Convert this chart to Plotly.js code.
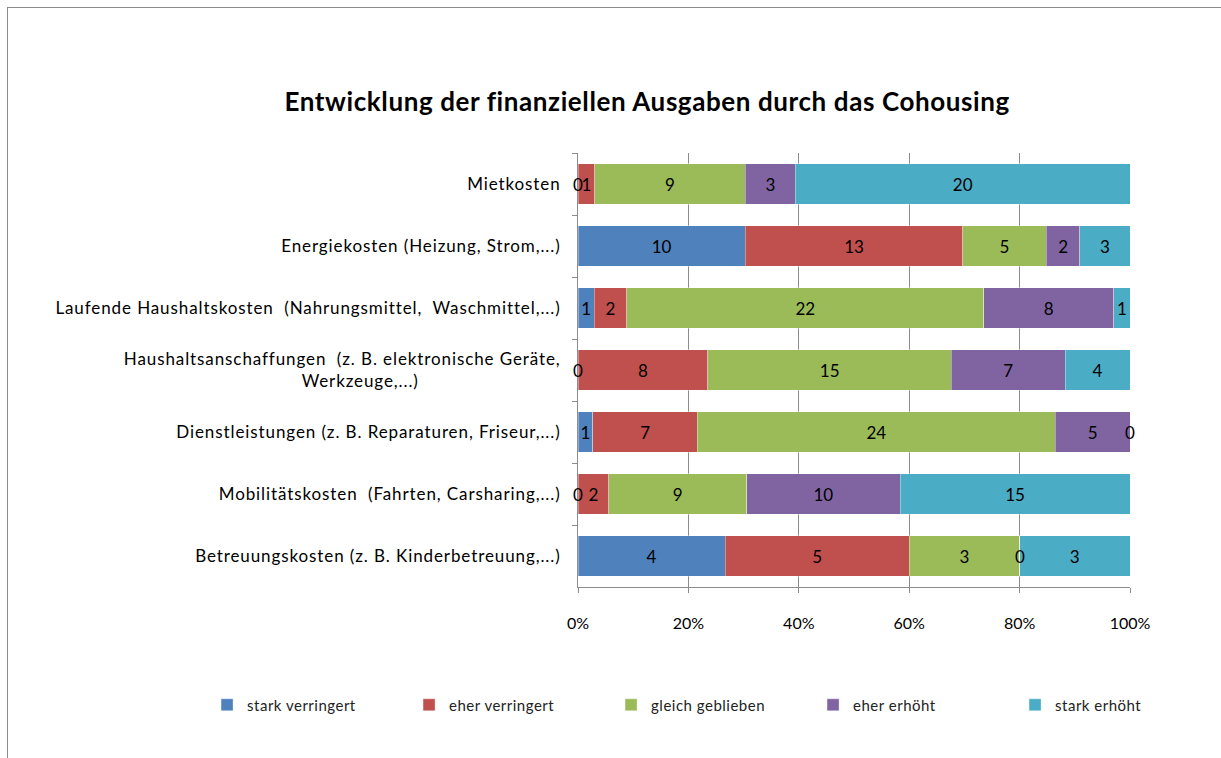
<!DOCTYPE html>
<html>
<head>
<meta charset="utf-8">
<script src="https://cdn.plot.ly/plotly-3.0.1.min.js"></script>
<style>
  html, body { margin: 0; padding: 0; background: #fff; overflow: hidden; }
  #frame { position: absolute; left: 7px; top: 7px; width: 1240px; height: 800px; border: 1px solid #8c8c8c; box-sizing: border-box; }
  #chart { position: absolute; left: 0; top: 0; width: 1221px; height: 758px; }
  #chart .ytick text { letter-spacing: 0.9px; }
  #chart .legendtext { letter-spacing: 0.5px; }
  #chart .gtitle { letter-spacing: 0.6px; }
</style>
</head>
<body>
<div id="frame"></div>
<div id="chart"></div>
<script>
const NB = '\u00a0';
const categories = [
  'Mietkosten',
  'Energiekosten (Heizung, Strom,...)',
  'Laufende Haushaltskosten  (Nahrungsmittel,  Waschmittel,...)',
  'Haushaltsanschaffungen  (z. B. elektronische Geräte,<br>Werkzeuge,...)',
  'Dienstleistungen (z. B. Reparaturen, Friseur,...)',
  'Mobilitätskosten  (Fahrten, Carsharing,...)',
  'Betreuungskosten (z. B. Kinderbetreuung,...)'
];
const seriesNames = ['stark verringert', 'eher verringert', 'gleich geblieben', 'eher erhöht', 'stark erhöht'];
const starkVerringert = [0, 10, 1, 0, 1, 0, 4];
const eherVerringert  = [1, 13, 2, 8, 7, 2, 5];
const gleichGeblieben = [9, 5, 22, 15, 24, 9, 3];
const eherErhoeht     = [3, 2, 8, 7, 5, 10, 0];
const starkErhoeht    = [20, 3, 1, 4, 0, 15, 3];
const xTickVals = [0, 20, 40, 60, 80, 100];

const seriesValues = [starkVerringert, eherVerringert, gleichGeblieben, eherErhoeht, starkErhoeht];
const colors = ['#4F81BD', '#C0504D', '#9BBB59', '#8064A2', '#4BACC6'];
const FONT = 'Lato, "Open Sans", sans-serif';

const labels = categories.map(c => c.replace(/  /g, ' ' + NB));
// center second line of the two-line label
labels[3] = labels[3].replace('<br>Werkzeuge,...)', '<br>Werkzeuge,...)' + NB.repeat(27));

const traces = seriesValues.map((vals, s) => ({
  type: 'bar',
  orientation: 'h',
  name: seriesNames[s],
  y: labels,
  x: vals,
  text: vals.map(v => v === 0 ? '' : String(v)),
  texttemplate: '%{text}',
  textposition: 'inside',
  insidetextanchor: 'middle',
  constraintext: 'none',
  textfont: { family: FONT, size: 17, color: '#000' },
  marker: { color: colors[s], line: { color: 'rgba(255,255,255,0.6)', width: 0.6 } },
  hoverinfo: 'skip'
}));

// zero-value labels placed at their stacked position
const annotations = [];
categories.forEach((c, i) => {
  const total = seriesValues.reduce((a, sv) => a + sv[i], 0);
  let cum = 0;
  seriesValues.forEach((sv, s) => {
    if (sv[i] === 0) {
      annotations.push({
        x: cum / total * 100, y: labels[i], xref: 'x', yref: 'y',
        text: '0', showarrow: false, xanchor: 'center', yanchor: 'middle',
        font: { family: FONT, size: 17, color: '#000' }
      });
    }
    cum += sv[i];
  });
});

const layout = {
  width: 1221, height: 758,
  paper_bgcolor: 'rgba(0,0,0,0)', plot_bgcolor: 'rgba(0,0,0,0)',
  margin: { l: 578, r: 91, t: 153, b: 171 },
  barmode: 'stack', barnorm: 'percent', bargap: 0.34,
  uniformtext: { mode: 'show', minsize: 17 },
  title: {
    text: '<b>Entwicklung der finanziellen Ausgaben durch das Cohousing</b>',
    font: { family: FONT, size: 26, color: '#000' },
    x: 0.53, xanchor: 'center', y: 0.865, yanchor: 'middle'
  },
  xaxis: {
    range: [0, 100], tickvals: xTickVals, ticktext: xTickVals.map(v => v + '%'),
    showgrid: true, gridcolor: '#8c8c8c', gridwidth: 1,
    showline: true, linecolor: '#8c8c8c', linewidth: 1,
    ticks: 'outside', ticklen: 5, tickcolor: '#8c8c8c',
    tickfont: { family: FONT, size: 16, color: '#000' },
    ticklabelstandoff: 17, zeroline: false, fixedrange: true
  },
  yaxis: {
    type: 'category', autorange: 'reversed',
    showline: true, linecolor: '#8c8c8c', linewidth: 1,
    ticks: 'outside', ticklen: 5, tickcolor: '#8c8c8c', tickson: 'boundaries',
    tickfont: { family: FONT, size: 17, color: '#000' },
    ticklabelstandoff: 13, showgrid: false, fixedrange: true
  },
  legend: {
    orientation: 'h',
    x: -0.672, xanchor: 'left', y: -0.272, yanchor: 'middle',
    font: { family: FONT, size: 15, color: '#222' },
    entrywidth: 157, entrywidthmode: 'pixels', traceorder: 'normal',
    itemclick: false, itemdoubleclick: false
  },
  annotations: annotations,
  showlegend: true
};

Plotly.newPlot('chart', traces, layout, { displayModeBar: false, staticPlot: true });
</script>
</body>
</html>
